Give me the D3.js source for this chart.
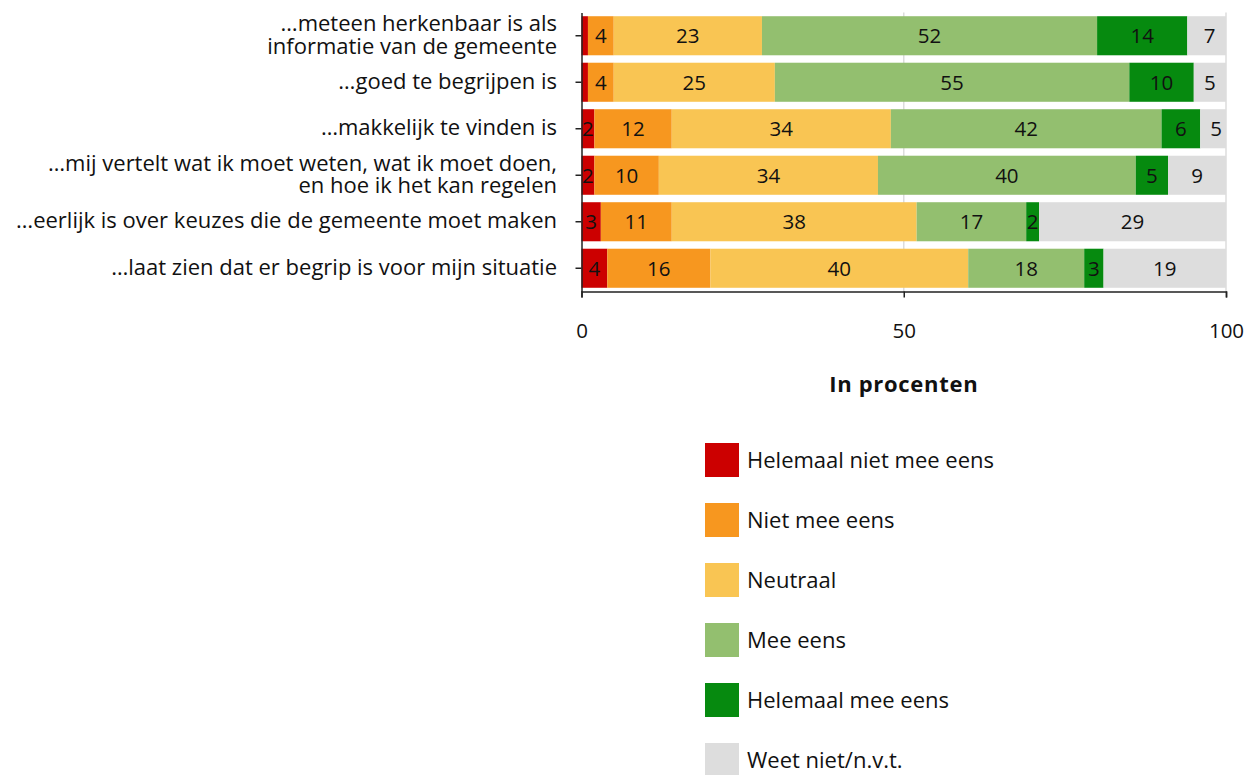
<!DOCTYPE html>
<html>
<head>
<meta charset="utf-8">
<script src="https://cdn.jsdelivr.net/npm/d3@7"></script>
<style>
  html, body { margin: 0; padding: 0; background: #fff; }
  svg { display: block; font-family: "Open Sans", sans-serif; }
</style>
</head>
<body>
<svg id="chart" width="1254" height="775"></svg>
<script>
// ---- data ----
const categories = [
  ["…meteen herkenbaar is als", "informatie van de gemeente"],
  ["…goed te begrijpen is"],
  ["…makkelijk te vinden is"],
  ["…mij vertelt wat ik moet weten, wat ik moet doen,", "en hoe ik het kan regelen"],
  ["…eerlijk is over keuzes die de gemeente moet maken"],
  ["…laat zien dat er begrip is voor mijn situatie"]
];
const seriesNames = ["Helemaal niet mee eens", "Niet mee eens", "Neutraal", "Mee eens", "Helemaal mee eens", "Weet niet/n.v.t."];
const helemaalNiet = [1, 1, 2, 2, 3, 4];
const nietMee      = [4, 4, 12, 10, 11, 16];
const neutraal     = [23, 25, 34, 34, 38, 40];
const meeEens      = [52, 55, 42, 40, 17, 18];
const helemaalMee  = [14, 10, 6, 5, 2, 3];
const weetNiet     = [7, 5, 5, 9, 29, 19];
const xTicks = [0, 50, 100];
const xTitle = "In procenten";
const colors = ["#cc0000", "#f7971f", "#f9c553", "#93bf6f", "#068a0f", "#dddddd"];

(function () {
// ---- build table ----
const seriesValues = [helemaalNiet, nietMee, neutraal, meeEens, helemaalMee, weetNiet];
const rows = categories.map((c, i) => {
  const r = { idx: i };
  seriesNames.forEach((s, j) => r[s] = seriesValues[j][i]);
  return r;
});
const stacked = d3.stack().keys(seriesNames)(rows);

// ---- layout ----
const svg = d3.select("#chart");
const pLeft = 581.5, pRight = 1226;
const pTop = 12.5, pBottom = 291.5;

const x = d3.scaleLinear().domain([0, 100]).range([pLeft, pRight]).clamp(true);
const xRaw = d3.scaleLinear().domain([0, 100]).range([pLeft, pRight]);
const y = d3.scaleBand().domain(d3.range(categories.length))
  .range([pTop, pBottom]).paddingInner(0.16).paddingOuter(0.08);

// grid
svg.append("g").selectAll("line").data([50, 100]).join("line")
  .attr("x1", d => x(d)).attr("x2", d => x(d))
  .attr("y1", pTop).attr("y2", pBottom)
  .attr("stroke", "#dcdcdc").attr("stroke-width", 1.5);

// bars
const groups = svg.append("g").selectAll("g").data(stacked).join("g")
  .attr("fill", (d, i) => colors[i]);
groups.selectAll("rect").data(d => d).join("rect")
  .attr("x", d => x(d[0]))
  .attr("width", d => Math.max(0, x(d[1]) - x(d[0])))
  .attr("y", d => y(d.data.idx))
  .attr("height", y.bandwidth());

// bar labels
const labelG = svg.append("g");
stacked.forEach(s => {
  s.forEach(d => {
    const v = d[1] - d[0];
    if (v < 2) return;
    labelG.append("text")
      .attr("x", (xRaw(d[0]) + Math.min(xRaw(d[1]), pRight + 6)) / 2)
      .attr("y", y(d.data.idx) + y.bandwidth() / 2)
      .attr("dy", "0.36em")
      .attr("text-anchor", "middle")
      .attr("font-size", 20.5)
      .attr("fill", "#111")
      .text(v);
  });
});

// y axis
const yAxis = d3.axisLeft(y).tickSize(6).tickSizeOuter(0).tickFormat("");
const yg = svg.append("g").attr("transform", `translate(${pLeft},0)`).call(yAxis);
yg.selectAll("path, line").attr("stroke", "#222").attr("stroke-width", 1.5);

// y labels
const yl = svg.append("g");
categories.forEach((lines, i) => {
  const cy = y(i) + y.bandwidth() / 2;
  const t = yl.append("text").attr("text-anchor", "end").attr("font-size", 22).attr("fill", "#111");
  lines.forEach((ln, k) => {
    t.append("tspan").attr("x", 557)
      .attr("y", cy + (k - (lines.length - 1) / 2) * 22.7)
      .attr("dy", "0.3em").text(ln);
  });
});

// x axis
const xAxis = d3.axisBottom(x).tickValues(xTicks).tickSize(6).tickSizeOuter(6).tickPadding(26);
const xg = svg.append("g").attr("transform", `translate(0,${pBottom})`).call(xAxis);
xg.selectAll("path, line").attr("stroke", "#222").attr("stroke-width", 1.5);
xg.attr("font-family", null);
xg.selectAll("text").attr("font-size", 20.5).attr("fill", "#111");

// x title
svg.append("text").attr("x", (pLeft + pRight) / 2).attr("y", 384).attr("dy", "0.35em")
  .attr("text-anchor", "middle").attr("font-size", 22).attr("font-weight", "bold")
  .attr("letter-spacing", "0.7px").attr("fill", "#111")
  .text(xTitle);

// legend
const lg = svg.append("g").attr("transform", "translate(705,443)");
const items = lg.selectAll("g").data(seriesNames).join("g")
  .attr("transform", (d, i) => `translate(0,${i * 60})`);
items.append("rect").attr("width", 34).attr("height", 34)
  .attr("fill", (d, i) => colors[i]);
items.append("text").attr("x", 42).attr("y", 17).attr("dy", "0.35em")
  .attr("font-size", 22).attr("fill", "#111").text(d => d);
})();
</script>
</body>
</html>
